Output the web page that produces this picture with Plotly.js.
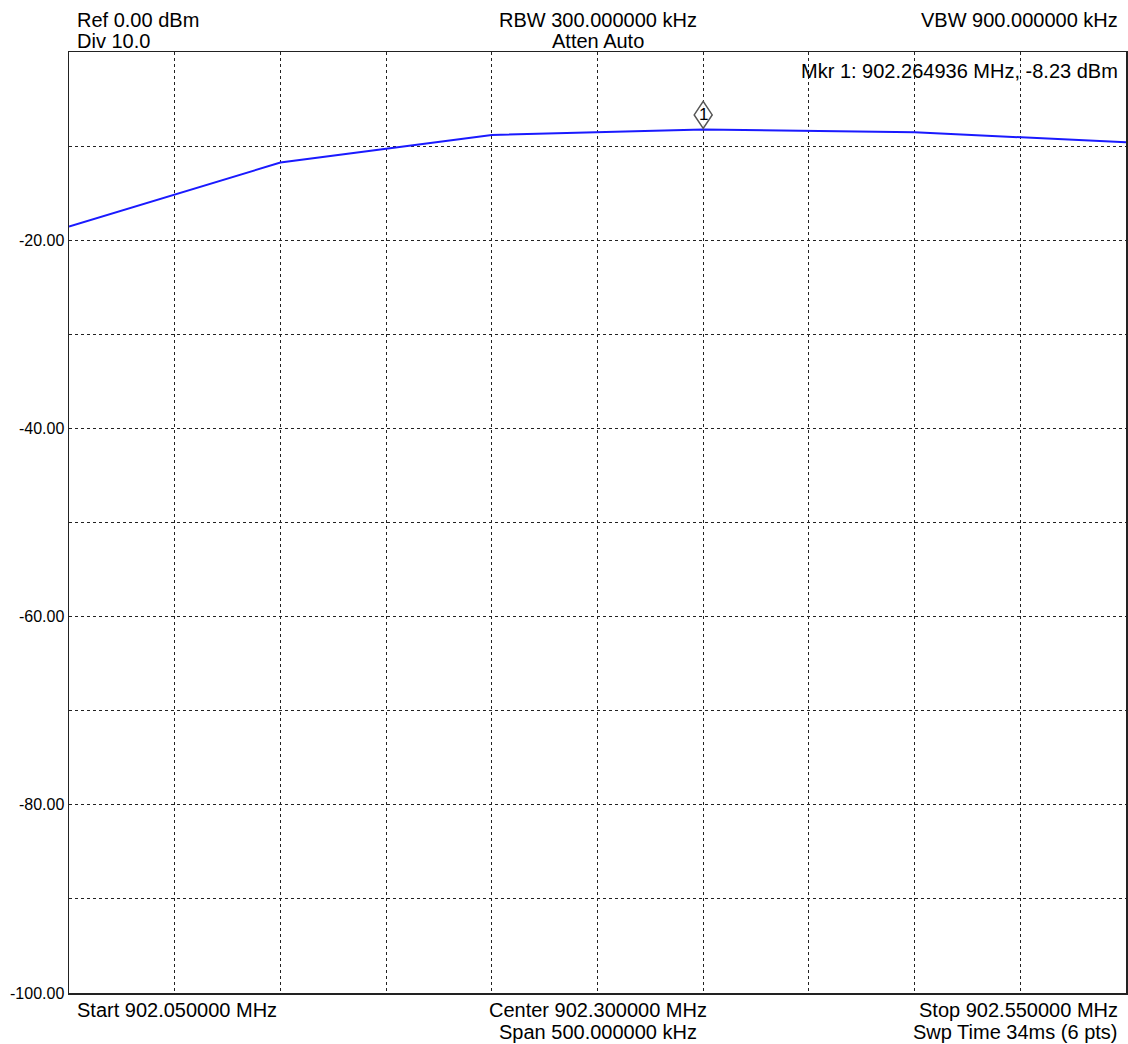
<!DOCTYPE html>
<html>
<head>
<meta charset="utf-8">
<script src="https://cdn.plot.ly/plotly-3.0.1.min.js"></script>
<style>html,body{margin:0;padding:0;background:#fff;}#chart{width:1128px;height:1044px;}</style>
</head>
<body>
<div id="chart"></div>
<script>
// Trace data (6 sweep points)
const freqMHz = [902.05, 902.15, 902.25, 902.35, 902.45, 902.55];
const levelDbm = [-18.55, -11.75, -8.81, -8.23, -8.53, -9.59];

// Marker
const markerFreq = 902.35;
const markerLevel = -8.23;
const markerLabel = "1";
const markerReadout = "Mkr 1: 902.264936 MHz, -8.23 dBm";

// Axis ticks
const yTickVals = [0, -10, -20, -30, -40, -50, -60, -70, -80, -90, -100];
const yTickText = ["", "", "-20.00", "", "-40.00", "", "-60.00", "", "-80.00", "", "-100.00"];
const xGridVals = [902.05, 902.10, 902.15, 902.20, 902.25, 902.30, 902.35, 902.40, 902.45, 902.50, 902.55];

// Header / footer labels
const topLeft = ["Ref 0.00 dBm", "Div 10.0"];
const topCenter = ["RBW 300.000000 kHz", "Atten Auto"];
const topRight = ["VBW 900.000000 kHz"];
const bottomLeft = ["Start 902.050000 MHz"];
const bottomCenter = ["Center 902.300000 MHz", "Span 500.000000 kHz"];
const bottomRight = ["Stop 902.550000 MHz", "Swp Time 34ms (6 pts)"];

const FONT = "Liberation Sans, Arial, sans-serif";
const L = 69, R = 1126, T = 52, B = 993;
const W = R - L, H = B - T;
const px = x => (x - L) / W;
const py = y => (B - y) / H;

function ann(text, xPix, yPix, anchor) {
  return {text: text, xref: 'paper', yref: 'paper', x: px(xPix), y: py(yPix),
    xanchor: anchor, yanchor: 'middle', showarrow: false,
    font: {family: FONT, size: 20, color: '#000'}};
}

const annotations = [];
annotations.push(ann(topLeft[0], 75, 20, 'left'));
annotations.push(ann(topLeft[1], 75, 41, 'left'));
annotations.push(ann(topCenter[0], 598, 20, 'center'));
annotations.push(ann(topCenter[1], 598, 41, 'center'));
annotations.push(ann(topRight[0], 1120, 20, 'right'));
annotations.push(ann(markerReadout, 1120, 71, 'right'));
annotations.push(ann(bottomLeft[0], 75, 1010, 'left'));
annotations.push(ann(bottomCenter[0], 598, 1010, 'center'));
annotations.push(ann(bottomCenter[1], 598, 1032, 'center'));
annotations.push(ann(bottomRight[0], 1120, 1010, 'right'));
annotations.push(ann(bottomRight[1], 1120, 1032, 'right'));
annotations.push({text: markerLabel, x: markerFreq, y: markerLevel, xref: 'x', yref: 'y',
  showarrow: false, yshift: 15, xanchor: 'center', yanchor: 'middle',
  font: {family: FONT, size: 17, color: '#000'}});

const trace = {
  x: freqMHz, y: levelDbm, type: 'scatter', mode: 'lines',
  line: {color: '#1a1aff', width: 2}, hoverinfo: 'skip'
};

const layout = {
  width: 1128, height: 1044,
  margin: {l: L, r: 1128 - R, t: T, b: 1044 - B, pad: 0},
  paper_bgcolor: '#fff', plot_bgcolor: '#fff',
  showlegend: false,
  xaxis: {
    range: [freqMHz[0], freqMHz[freqMHz.length - 1]],
    tickmode: 'array', tickvals: xGridVals, showticklabels: false, ticks: '',
    showgrid: true, gridcolor: '#222', griddash: 'dot', gridwidth: 1,
    zeroline: false, showline: true, mirror: true, linecolor: '#222', linewidth: 1.5
  },
  yaxis: {
    range: [-100, 0],
    tickmode: 'array', tickvals: yTickVals, ticktext: yTickText, ticks: '',
    tickfont: {family: FONT, size: 16, color: '#000'},
    showgrid: true, gridcolor: '#222', griddash: 'dot', gridwidth: 1,
    zeroline: false, showline: true, mirror: true, linecolor: '#222', linewidth: 1.5
  },
  shapes: [{
    type: 'path', xref: 'x', yref: 'y', xsizemode: 'pixel', ysizemode: 'pixel',
    xanchor: markerFreq, yanchor: markerLevel,
    path: 'M0,1 L-9,14.5 L0,28 L9,14.5 Z',
    line: {color: '#555', width: 1.5}, fillcolor: 'rgba(255,255,255,0.9)', layer: 'above'
  }],
  annotations: annotations
};

Plotly.newPlot('chart', [trace], layout, {staticPlot: true, displayModeBar: false});
</script>
</body>
</html>
